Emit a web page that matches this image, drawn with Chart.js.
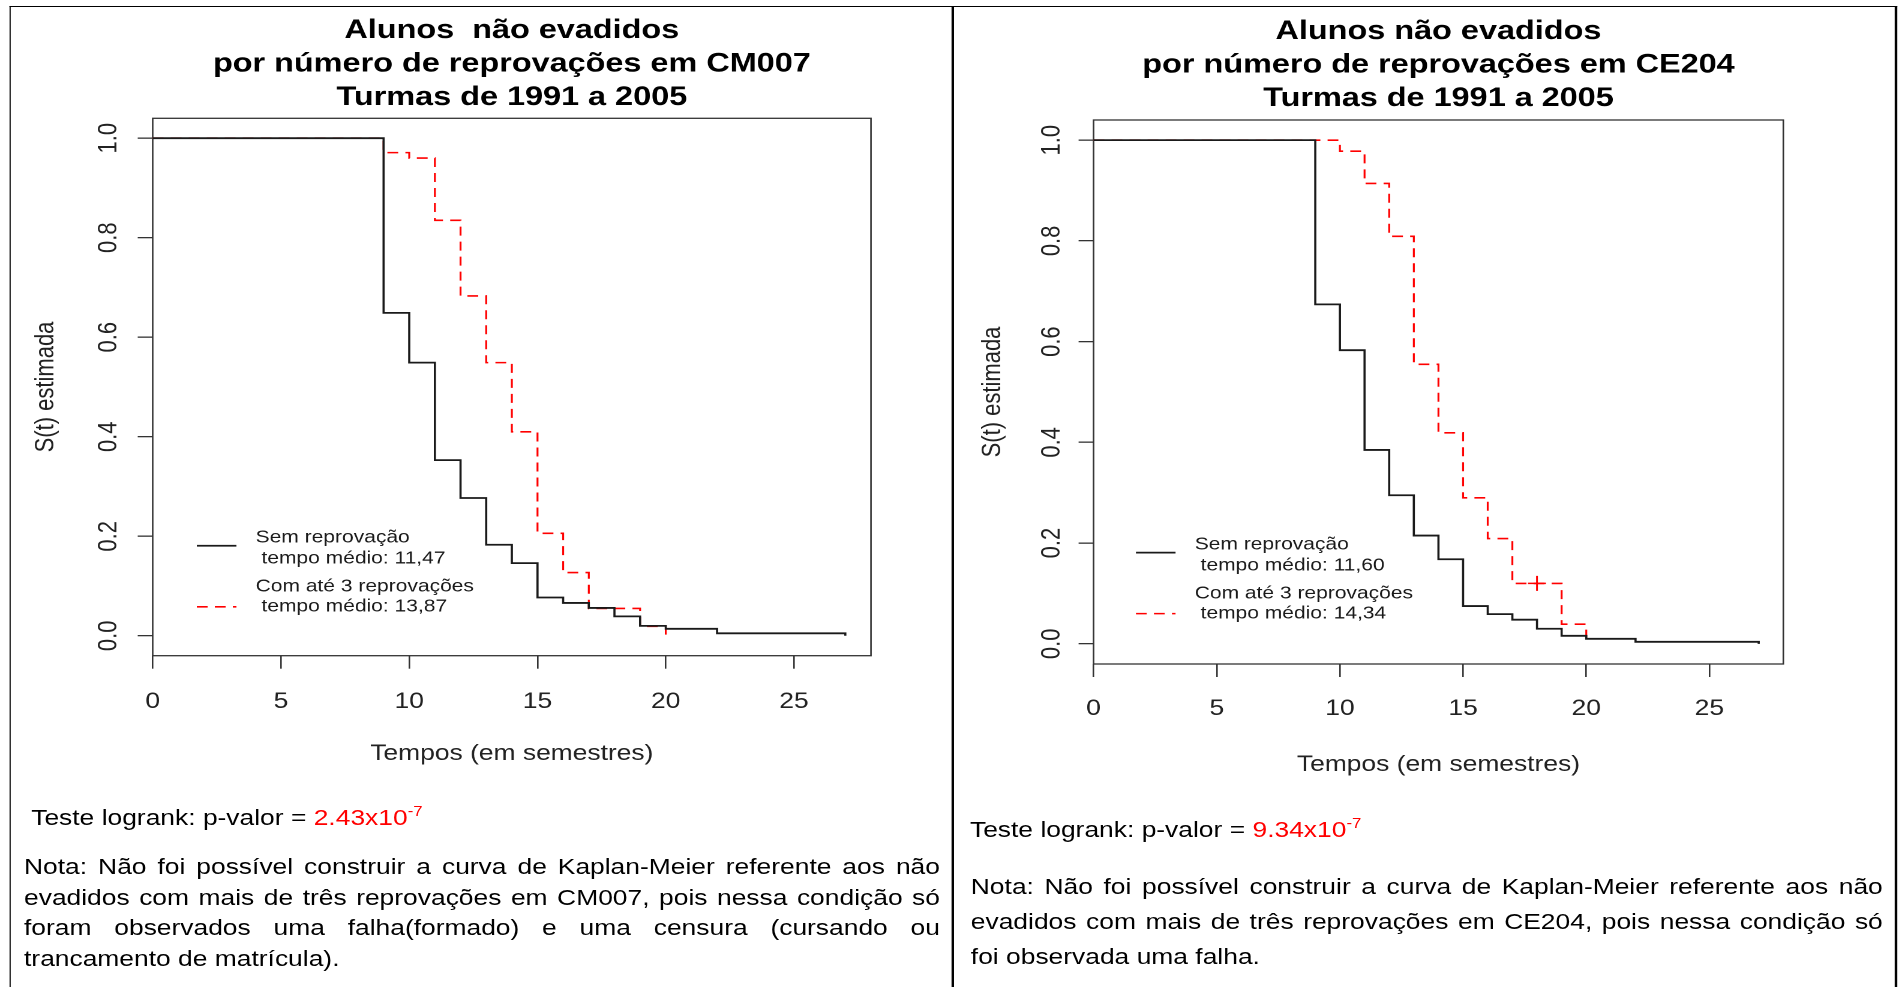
<!DOCTYPE html>
<html lang="pt-BR">
<head>
<meta charset="utf-8">
<title>Alunos não evadidos - CM007 e CE204</title>
<script src="https://cdn.jsdelivr.net/npm/chart.js@4.4.1/dist/chart.umd.min.js"></script>
<style>
  html, body { margin: 0; padding: 0; background: #fff; }
  body { width: 1901px; height: 987px; overflow: hidden; position: relative; font-family: 'Liberation Sans', Arial, sans-serif; }
  /* a figura original está esticada na horizontal: tudo é desenhado em 1584px e alargado */
  #folha { position: absolute; left: 0; top: 0; width: 1584px; height: 987px; transform: scaleX(1.2); transform-origin: 0 0; }
  .borda { position: absolute; background: #000; }
  canvas { position: absolute; }
  .teste { position: absolute; font-size: 22px; line-height: 30px; color: #000; white-space: nowrap; }
  .teste .valor { color: #ff0000; }
  .teste sup { font-size: 14px; line-height: 0; vertical-align: 9px; }
  .nota { position: absolute; font-size: 22px; color: #000; }
  .nota .cheia { text-align: justify; text-align-last: justify; }
</style>
</head>
<body>
<div id="folha">
  <div class="borda" style="left:7.75px; top:6px; width:1573px; height:1.3px"></div>
  <div class="borda" style="left:7.75px; top:6px; width:1.7px; height:981px"></div>
  <div class="borda" style="left:792.9px; top:6px; width:1.7px; height:981px"></div>
  <div class="borda" style="left:1579.3px; top:6px; width:1.7px; height:981px"></div>

  <canvas id="graficoCM007" width="780" height="762" style="left:10px; top:8px"></canvas>
  <canvas id="graficoCE204" width="780" height="772" style="left:797px; top:8px"></canvas>

  <div class="teste" style="left:26px; top:803px">Teste logrank: p-valor = <span class="valor">2.43x10<sup>-7</sup></span></div>
  <div class="nota" style="left:20px; top:852px; width:763.3px; line-height:30.7px">
    <div class="cheia">Nota: Não foi possível construir a curva de Kaplan-Meier referente aos não</div>
    <div class="cheia">evadidos com mais de três reprovações em CM007, pois nessa condição só</div>
    <div class="cheia">foram observados uma falha(formado) e uma censura (cursando ou</div>
    <div>trancamento de matrícula).</div>
  </div>

  <div class="teste" style="left:808.3px; top:815px">Teste logrank: p-valor = <span class="valor">9.34x10<sup>-7</sup></span></div>
  <div class="nota" style="left:809px; top:869px; width:760px; line-height:35px">
    <div class="cheia">Nota: Não foi possível construir a curva de Kaplan-Meier referente aos não</div>
    <div class="cheia">evadidos com mais de três reprovações em CE204, pois nessa condição só</div>
    <div>foi observada uma falha.</div>
  </div>
</div>

<script>
// CM007 - Kaplan-Meier (tempo em semestres, S(t) estimada)
const temposSemCM007 = [0, 9, 10, 11, 12, 13, 14, 15, 16, 17, 18, 19, 20, 22, 27];
const survSemCM007 = [1, 0.649, 0.549, 0.353, 0.277, 0.183, 0.146, 0.077, 0.066, 0.056, 0.039, 0.020, 0.014, 0.005, 0];
const temposComCM007 = [0, 9, 10, 11, 12, 13, 14, 15, 16, 17, 19, 20];
const survComCM007 = [1, 0.971, 0.960, 0.835, 0.683, 0.549, 0.410, 0.206, 0.127, 0.055, 0.019, 0];

// CE204
const temposSemCE204 = [0, 9, 10, 11, 12, 13, 14, 15, 16, 17, 18, 19, 20, 22, 27];
const survSemCE204 = [1, 0.674, 0.583, 0.385, 0.295, 0.215, 0.168, 0.075, 0.059, 0.048, 0.030, 0.016, 0.010, 0.004, 0];
const temposComCE204 = [0, 10, 11, 12, 13, 14, 15, 16, 17, 19, 20];
const survComCE204 = [1, 0.978, 0.914, 0.809, 0.555, 0.419, 0.290, 0.209, 0.120, 0.039, 0];
const temposCensuraCE204 = [18];
const survCensuraCE204 = [0.120];

const ticksX = [0, 5, 10, 15, 20, 25];
const rotulosX = ['0', '5', '10', '15', '20', '25'];
const ticksY = [0, 0.2, 0.4, 0.6, 0.8, 1.0];
const rotulosY = ['0.0', '0.2', '0.4', '0.6', '0.8', '1.0'];

const tituloCM007 = ['Alunos  não evadidos', 'por número de reprovações em CM007', 'Turmas de 1991 a 2005'];
const tituloCE204 = ['Alunos não evadidos', 'por número de reprovações em CE204', 'Turmas de 1991 a 2005'];
const legendaCM007 = ['Sem reprovação', ' tempo médio: 11,47', 'Com até 3 reprovações', ' tempo médio: 13,87'];
const legendaCE204 = ['Sem reprovação', ' tempo médio: 11,60', 'Com até 3 reprovações', ' tempo médio: 14,34'];

Chart.defaults.font.family = "'Liberation Sans', Arial, sans-serif";

const pontos = (tempos, surv) => tempos.map((t, i) => ({x: t, y: surv[i]}));

// caixa em volta da área do gráfico, como no R
const moldura = {
    id: 'moldura',
    beforeDatasetsDraw(chart) {
        const {ctx, chartArea: a} = chart;
        ctx.save();
        ctx.strokeStyle = '#333';
        ctx.lineWidth = 1.3;
        ctx.strokeRect(a.left, a.top, a.right - a.left, a.bottom - a.top);
        ctx.restore();
    }
};

// legenda do R: ancorada em coordenadas dos dados, texto em duas linhas por curva
const legendaR = {
    id: 'legendaR',
    afterDatasetsDraw(chart, args, opts) {
        if (!opts.linhas) return;
        const {ctx, scales} = chart;
        const x0 = scales.x.getPixelForValue(opts.x);
        const y0 = scales.y.getPixelForValue(opts.y);
        const ds = chart.data.datasets;
        ctx.save();
        [[ds[0], 8], [ds[1], 69]].forEach(([d, dy]) => {
            ctx.strokeStyle = d.borderColor;
            ctx.lineWidth = d.borderWidth;
            ctx.setLineDash(d.borderDash || []);
            ctx.beginPath();
            ctx.moveTo(x0, y0 + dy);
            ctx.lineTo(x0 + 33, y0 + dy);
            ctx.stroke();
        });
        ctx.setLineDash([]);
        ctx.fillStyle = '#1a1a1a';
        ctx.font = "17.5px 'Liberation Sans', Arial, sans-serif";
        ctx.textBaseline = 'middle';
        [0, 21, 49, 69].forEach((dy, i) => ctx.fillText(opts.linhas[i], x0 + 49, y0 + dy));
        ctx.restore();
    }
};

function criarGrafico(id, titulo, legenda, datasets, g) {
    const marcas = {display: true, drawOnChartArea: false, drawTicks: true, color: '#333', lineWidth: 1.3};
    return new Chart(document.getElementById(id), {
        type: 'line',
        data: {datasets: datasets},
        plugins: [moldura, legendaR],
        options: {
            responsive: false,
            animation: false,
            devicePixelRatio: 2,
            layout: {padding: {left: 0, top: 0, right: g.padDireita, bottom: g.padBaixo}},
            plugins: {
                legend: {display: false},
                tooltip: {enabled: false},
                title: {
                    display: true,
                    text: titulo,
                    color: '#000',
                    fullSize: false,
                    font: {size: 27, weight: 'bold', lineHeight: '33.5px'},
                    padding: {top: g.padTituloCima, bottom: g.padTituloBaixo}
                },
                legendaR: {x: 1.72, y: 0.197, linhas: legenda}
            },
            scales: {
                x: {
                    type: 'linear',
                    min: 0,
                    max: 28,
                    afterBuildTicks: s => { s.ticks = ticksX.map(v => ({value: v})); },
                    afterFit: s => { s.height = g.alturaX; },
                    grid: Object.assign({tickLength: 13}, marcas),
                    border: {display: false},
                    ticks: {autoSkip: false, maxRotation: 0, padding: g.padTickX, color: '#222', font: {size: 22},
                        callback: (v, i) => rotulosX[i]},
                    title: {display: true, text: 'Tempos (em semestres)', color: '#222', font: {size: 22}, padding: 0}
                },
                y: {
                    type: 'linear',
                    min: -0.04,
                    max: 1.04,
                    afterBuildTicks: s => { s.ticks = ticksY.map(v => ({value: v})); },
                    afterFit: s => { s.width = g.larguraY; },
                    grid: Object.assign({tickLength: 12.5}, marcas),
                    border: {display: false},
                    ticks: {autoSkip: false, minRotation: 90, maxRotation: 90, crossAlign: 'center', padding: g.padTickY,
                        color: '#222', font: {size: 22}, callback: (v, i) => rotulosY[i]},
                    title: {display: true, text: 'S(t) estimada', color: '#222', font: {size: 22},
                        padding: {top: g.padTituloY, bottom: 0}}
                }
            }
        }
    });
}

const estiloSem = {label: 'Sem reprovação', borderColor: '#1a1a1a', borderWidth: 1.8, stepped: 'before', pointRadius: 0, fill: false};
const estiloCom = {label: 'Com até 3 reprovações', borderColor: '#ff0000', borderWidth: 1.6, borderDash: [9, 6], stepped: 'before', pointRadius: 0, fill: false};

document.addEventListener('DOMContentLoaded', function() {
    criarGrafico('graficoCM007', tituloCM007, legendaCM007, [
        Object.assign({data: pontos(temposSemCM007, survSemCM007)}, estiloSem),
        Object.assign({data: pontos(temposComCM007, survComCM007)}, estiloCom)
    ], {padDireita: 64.2, padBaixo: 2.8, larguraY: 117.25, alturaX: 111.5, padTituloCima: 5.75, padTituloBaixo: 4.05,
        padTituloY: 15.1, padTickY: 8.6, padTickX: 19.8});

    criarGrafico('graficoCE204', tituloCE204, legendaCE204, [
        Object.assign({data: pontos(temposSemCE204, survSemCE204)}, estiloSem),
        Object.assign({data: pontos(temposComCE204, survComCE204)}, estiloCom),
        {label: 'Censura', data: pontos(temposCensuraCE204, survCensuraCE204), showLine: false,
            pointStyle: 'cross', pointRadius: 7.5, borderColor: '#ff0000', borderWidth: 1.5}
    ], {padDireita: 90.9, padBaixo: 1.8, larguraY: 114.3, alturaX: 114.2, padTituloCima: 6.75, padTituloBaixo: 4.75,
        padTituloY: 17.3, padTickY: 6.8, padTickX: 18.8});
});
</script>
</body>
</html>
